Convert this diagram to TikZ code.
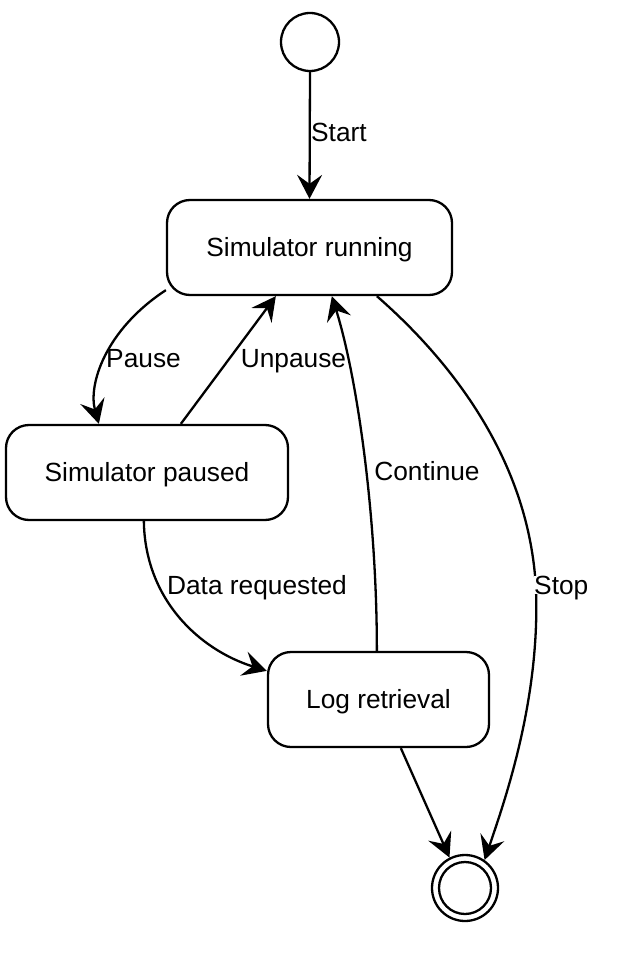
\documentclass[tikz,border=0pt]{standalone}
\usepackage{fontspec}
\setmainfont{Liberation Sans}
\usetikzlibrary{arrows.meta,calc}
\begin{document}
\begin{tikzpicture}[x=1pt,y=-1pt,
  every node/.style={font=\fontsize{26.3}{31}\selectfont},
  state/.style={draw, line width=2.3pt, rounded corners=23pt, minimum height=95pt, inner sep=0pt, text height=18.8pt, text depth=0pt},
  lbl/.style={inner sep=0pt, text height=18.8pt, text depth=0pt},
  tip/.tip={Stealth[length=24pt,width=25pt,inset=9pt]},
  conn/.style={draw, line width=2.3pt, -tip}]
\useasboundingbox (0,0) rectangle (626,960);
\node[draw, circle, line width=2.3pt, minimum size=58pt, inner sep=0pt] (init) at (310,42) {};
\node[state, minimum width=285pt] (run) at (309.5,247.5) {Simulator running};
\node[state, minimum width=282pt] (paused) at (147,472.5) {Simulator paused};
\node[state, minimum width=221pt] (log) at (378.5,699.5) {Log retrieval};
\node[draw, circle, line width=2.3pt, minimum size=66pt, inner sep=0pt] (final) at (465,888) {};
\node[draw, circle, line width=2.3pt, minimum size=52pt, inner sep=0pt] (finalin) at (465,888) {};

\draw[conn] (init.south) -- (run.north);
\node[lbl, anchor=west] (lstart) at (311,132) {Start};

\draw[conn] ($(run.south west)+(0,-6)$) .. controls (105,330) and (88,385) .. ($(paused.north west)+(94,0)$);
\node[lbl] (lpause) at (143.5,358) {Pause};

\draw[conn] ($(paused.north west)+(176,0)$) -- ($(run.south west)+(110,0)$);
\node[lbl] (lunpause) at (293.5,358) {Unpause};

\draw[conn] ($(log.north west)+(110,0)$) .. controls (377,520) and (358,380) .. ($(run.south west)+(166,0)$);
\node[lbl] (lcont) at (427,471) {Continue};

\draw[conn] ($(run.south west)+(211,0)$) .. controls (450,360) and (530,460) .. (536,590) .. controls (540,700) and (505,800) .. (final.55);
\node[lbl, anchor=west, fill=white] (lstop) at (534,585) {Stop};

\draw[conn] ($(paused.south west)+(139,0)$) .. controls (145,600) and (200,650) .. ($(log.north west)+(0,20)$);
\node[lbl] (ldata) at (257,585) {Data requested};

\draw[conn] ($(log.south west)+(134,0)$) -- (final.117);
\end{tikzpicture}
\end{document}
